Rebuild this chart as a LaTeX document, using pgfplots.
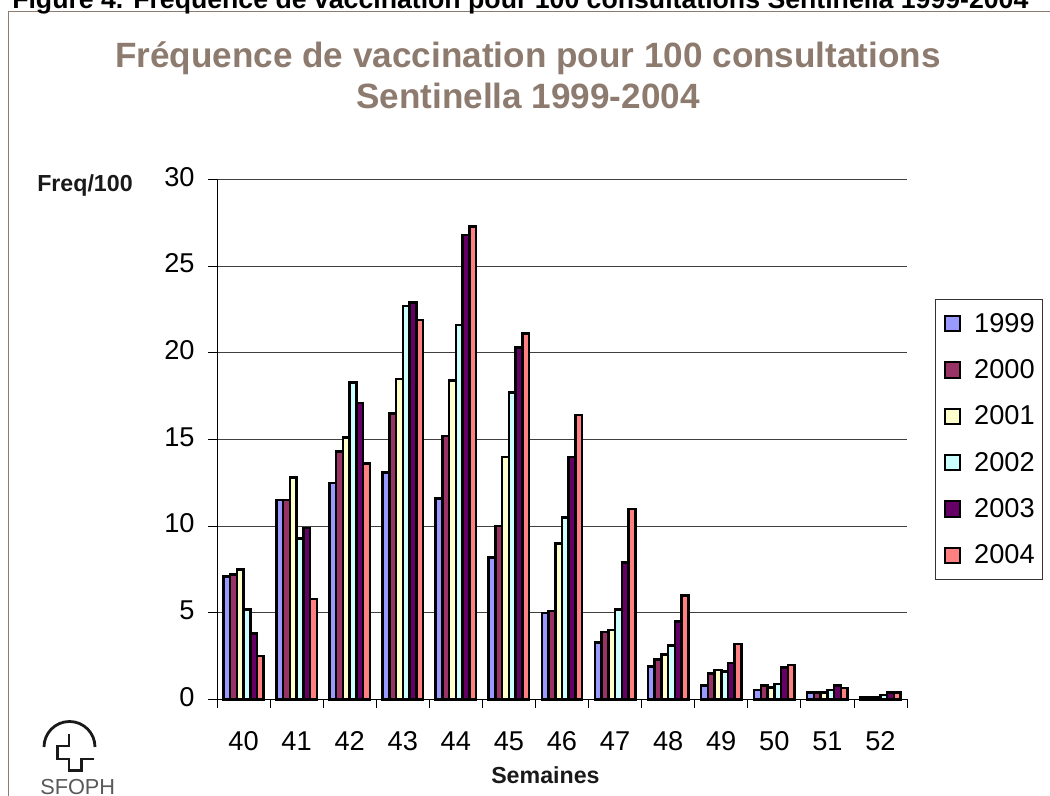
\documentclass[border=0pt]{standalone}
\usepackage{fontspec}
\setmainfont{Liberation Sans}
\usepackage{pgfplots}
\pgfplotsset{compat=1.18}
\definecolor{cframe}{HTML}{8C7B6E}
\definecolor{ca}{HTML}{9999FF}
\definecolor{cb}{HTML}{993366}
\definecolor{cc}{HTML}{FFFFCC}
\definecolor{cd}{HTML}{CCFFFF}
\definecolor{ce}{HTML}{660066}
\definecolor{cf}{HTML}{FF8080}
\pgfplotsset{barst/.style={draw=black,line width=1.9pt,fill=#1}}
\begin{document}
\begin{tikzpicture}
\useasboundingbox (0,0) rectangle (787.5pt,597pt);
\clip (0,0) rectangle (787.5pt,597pt);
\begin{scope}[x=.75pt,y=-.75pt,shift={(0pt,597pt)}]
\draw[cframe,line width=1pt] (1060,11.5) -- (8.5,11.5) -- (8.5,800);
\node[anchor=base west,inner sep=0pt,font=\bfseries\fontsize{20pt}{22pt}\selectfont,black] at (12,9) {Figure 4. Fréquence de vaccination pour 100 consultations Sentinella 1999-2004};
\node[anchor=center,inner sep=0pt,align=center,text=cframe,font=\bfseries\fontsize{26.35pt}{31pt}\selectfont] at (528,75) {Fréquence de vaccination pour 100 consultations\\Sentinella 1999-2004};
\node[anchor=base west,inner sep=0pt,font=\bfseries\fontsize{17.4pt}{19pt}\selectfont,text=black!90] at (37,192) {Freq/100};
\node[anchor=base west,inner sep=0pt,font=\bfseries\fontsize{17.4pt}{19pt}\selectfont,text=black!90] at (491,784) {Semaines};
\draw[line width=2.1pt,black!90] (44,747) arc[start angle=180,end angle=360,radius=25.5];
\draw[line width=2.1pt,black!90] (69,734) -- (69,746) -- (57.3,746) -- (57.3,759) -- (69,759) -- (69,770.7) -- (81.7,770.7) -- (81.7,759) -- (94.3,759);
\node[anchor=base west,inner sep=0pt,font=\fontsize{16.3pt}{18pt}\selectfont,text=black!65] at (40,795) {SFOPH};
\end{scope}
\begin{axis}[
  at={(162.75pt,72.375pt)},anchor=south west,
  scale only axis,width=517.5pt,height=390pt,
  xmin=-0.5,xmax=12.5,ymin=0,ymax=30,
  ybar=0pt,bar width=5.05pt,
  axis x line=bottom,axis y line=left,
  axis line style={-,black,line width=.7pt},
  xtick={0,...,12},
  xticklabels={40,41,42,43,44,45,46,47,48,49,50,51,52},
  minor xtick={-0.5,0.5,...,12.5},
  ytick={0,5,...,30},
  tick align=outside,
  major tick length=6.75pt,
  minor tick length=6.75pt,
  major x tick style={draw=none},
  minor x tick style={black,line width=.6pt},
  y tick style={black,line width=.6pt},
  ymajorgrids,
  grid style={black!75,line width=.7pt},
  /pgf/number format/assume math mode=true,
  tick label style={font=\fontsize{20.4pt}{24pt}\selectfont},
  x tick label style={yshift=-13pt,text height=14.6pt,text depth=0pt},
  y tick label style={xshift=-6.5pt,yshift=2pt},
  area legend,
  legend image code/.code={\path[draw=none,fill=none] (-3pt,0) -- (20pt,0);\draw[#1,line width=1.5pt] (0pt,-5.75pt) rectangle (11.5pt,5.75pt);},
  legend cell align=left,
  legend style={at={(1.0406,0.7696)},anchor=north west,draw=black!80,line width=.7pt,
    font=\fontsize{20.4pt}{24pt}\selectfont,row sep=15pt,inner xsep=4pt,inner ysep=8pt},
  clip=false,
]
\addplot[barst=ca] coordinates {(0,7.1)(1,11.5)(2,12.5)(3,13.1)(4,11.6)(5,8.2)(6,5)(7,3.3)(8,1.9)(9,.8)(10,.55)(11,.4)(12,.1)};
\addplot[barst=cb] coordinates {(0,7.2)(1,11.5)(2,14.3)(3,16.5)(4,15.2)(5,10)(6,5.1)(7,3.9)(8,2.3)(9,1.5)(10,.8)(11,.4)(12,.1)};
\addplot[barst=cc] coordinates {(0,7.5)(1,12.8)(2,15.1)(3,18.5)(4,18.4)(5,14)(6,9)(7,4)(8,2.6)(9,1.7)(10,.7)(11,.4)(12,.1)};
\addplot[barst=cd] coordinates {(0,5.2)(1,9.3)(2,18.3)(3,22.7)(4,21.6)(5,17.7)(6,10.5)(7,5.2)(8,3.1)(9,1.6)(10,.9)(11,.55)(12,.25)};
\addplot[barst=ce] coordinates {(0,3.8)(1,9.9)(2,17.1)(3,22.9)(4,26.8)(5,20.3)(6,14)(7,7.9)(8,4.5)(9,2.1)(10,1.85)(11,.8)(12,.4)};
\addplot[barst=cf] coordinates {(0,2.5)(1,5.8)(2,13.6)(3,21.9)(4,27.3)(5,21.1)(6,16.4)(7,11)(8,6)(9,3.2)(10,2)(11,.65)(12,.4)};
\legend{1999,2000,2001,2002,2003,2004}
\end{axis}
\end{tikzpicture}
\end{document}
